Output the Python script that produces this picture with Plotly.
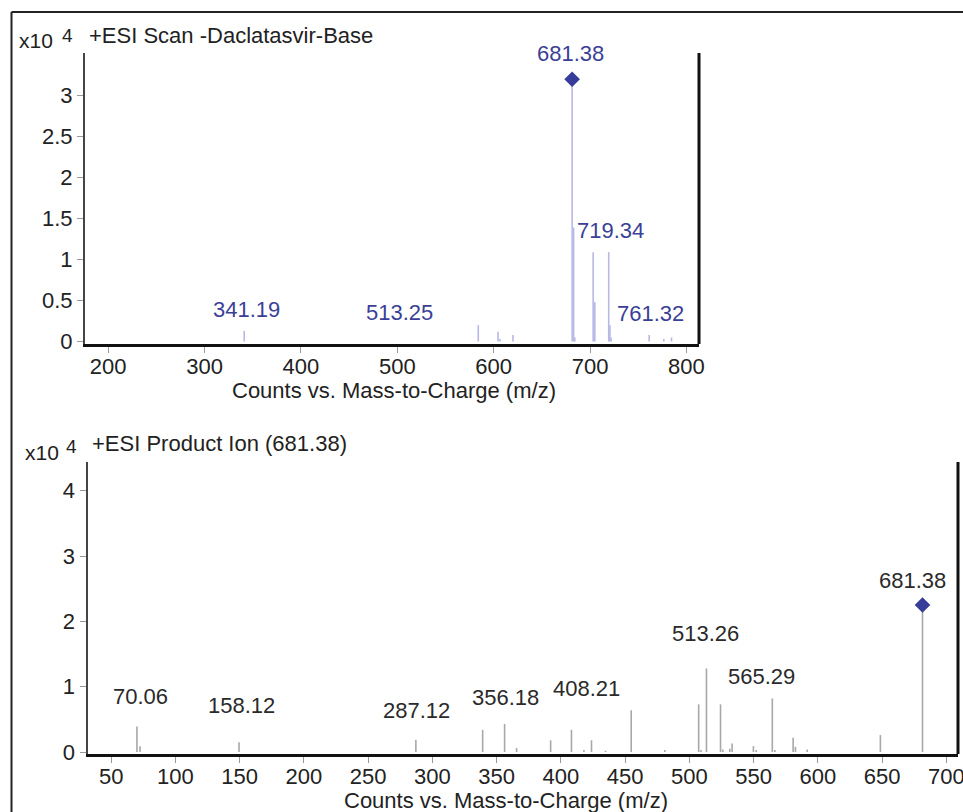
import plotly.graph_objects as go

# ---------------- data ----------------
# Top spectrum: +ESI Scan -Daclatasvir-Base  (intensity in x10^4 counts)
top_mz = [341.19, 584.0, 604.5, 606.5, 620.0, 681.38, 682.9, 684.2, 703.2,
          704.9, 719.34, 720.6, 721.8, 761.32, 776.5, 784.5]
top_int = [0.13, 0.20, 0.12, 0.03, 0.08, 3.20, 1.39, 0.05, 1.09,
           0.48, 1.09, 0.20, 0.05, 0.08, 0.03, 0.05]
top_labels = ["681.38", "719.34", "761.32", "341.19", "513.25"]
top_precursor_mz = [681.38]
top_precursor_int = [3.20]
top_xticks = [200, 300, 400, 500, 600, 700, 800]
top_yticks = [0, 0.5, 1, 1.5, 2, 2.5, 3]
top_yticktext = ["0", "0.5", "1", "1.5", "2", "2.5", "3"]

# Bottom spectrum: +ESI Product Ion (681.38)
bot_mz = [70.06, 72.5, 149.5, 287.12, 339.1, 356.18, 365.5, 392.0, 408.21, 417.9,
          423.8, 434.7, 454.7, 480.9, 507.2, 509.0, 513.26, 524.2, 526.0, 531.4,
          533.2, 549.8, 552.0, 564.5, 566.5, 580.7, 582.5, 591.6, 648.6, 681.38]
bot_int = [0.39, 0.09, 0.15, 0.19, 0.34, 0.43, 0.06, 0.18, 0.34, 0.03,
           0.18, 0.02, 0.64, 0.03, 0.73, 0.03, 1.28, 0.73, 0.04, 0.05,
           0.13, 0.09, 0.03, 0.82, 0.03, 0.22, 0.08, 0.04, 0.26, 2.25]
bot_labels = ["70.06", "158.12", "287.12", "356.18", "408.21", "513.26", "565.29", "681.38"]
bot_precursor_mz = [681.38]
bot_precursor_int = [2.25]
bot_xticks = [50, 100, 150, 200, 250, 300, 350, 400, 450, 500, 550, 600, 650, 700]
bot_yticks = [0, 1, 2, 3, 4]

# ---------------- layout helpers ----------------
W, H = 963, 812
FONT = "Liberation Sans, Arial, Helvetica, sans-serif"
FS = 22

def dom_x(a, b):
    return [a / W, b / W]

def dom_y(top, bottom):
    return [1 - bottom / H, 1 - top / H]

def stems(mz, inten):
    xs, ys = [], []
    for m, v in zip(mz, inten):
        xs += [m, m, None]
        ys += [0, v, None]
    return xs, ys

fig = go.Figure()

tx, ty = stems(top_mz, top_int)
fig.add_trace(go.Scatter(x=tx, y=ty, mode="lines", xaxis="x", yaxis="y",
                         line=dict(color="#b8b8e6", width=1.6), hoverinfo="skip",
                         showlegend=False))
fig.add_trace(go.Scatter(x=top_precursor_mz, y=top_precursor_int, mode="markers",
                         xaxis="x", yaxis="y", showlegend=False,
                         marker=dict(symbol="diamond", size=12, color="#363c99")))

bx, by = stems(bot_mz, bot_int)
fig.add_trace(go.Scatter(x=bx, y=by, mode="lines", xaxis="x2", yaxis="y2",
                         line=dict(color="#a8a8a8", width=1.6), hoverinfo="skip",
                         showlegend=False))
fig.add_trace(go.Scatter(x=bot_precursor_mz, y=bot_precursor_int, mode="markers",
                         xaxis="x2", yaxis="y2", showlegend=False,
                         marker=dict(symbol="diamond", size=12, color="#363c99")))

tickfont = dict(family=FONT, size=FS, color="#222222")
common_x = dict(showline=True, linecolor="#111111", linewidth=3, ticks="outside",
                ticklen=6, tickwidth=1, tickcolor="#999999", showgrid=False,
                zeroline=False, tickfont=tickfont, fixedrange=True, automargin=False,
                ticklabelstandoff=-5, ticklabeloverflow="allow")
common_y = dict(showline=True, linecolor="#444444", linewidth=2, ticks="outside",
                ticklen=6, tickwidth=1, tickcolor="#999999", showgrid=False,
                zeroline=False, tickfont=tickfont, fixedrange=True, automargin=False)

fig.update_layout(
    width=W, height=H, autosize=False,
    margin=dict(l=0, r=0, t=0, b=0, pad=0, autoexpand=False),
    paper_bgcolor="white", plot_bgcolor="white",
    font=dict(family=FONT, size=FS, color="#222222"),
    hovermode=False,
    xaxis=dict(domain=dom_x(85, 699), range=[176, 813], tickvals=top_xticks,
               anchor="y", **common_x),
    yaxis=dict(domain=dom_y(53, 344), range=[-0.03, 3.52], tickvals=top_yticks,
               ticktext=top_yticktext, anchor="x", **common_y),
    xaxis2=dict(domain=dom_x(87.5, 958), range=[31.6, 709], tickvals=bot_xticks,
                anchor="y2", **common_x),
    yaxis2=dict(domain=dom_y(462, 754), range=[-0.03, 4.44], tickvals=bot_yticks,
                anchor="x2", **common_y),
)

shapes = [
    # right frame lines of each plot
    dict(type="line", xref="x domain", yref="y domain", x0=1, x1=1, y0=0, y1=1,
         line=dict(color="#111111", width=3)),
    dict(type="line", xref="x2 domain", yref="y2 domain", x0=1, x1=1, y0=0, y1=1,
         line=dict(color="#111111", width=3)),
    # outer image frame (left and top)
    dict(type="line", xref="paper", yref="paper", x0=11.5 / W, x1=11.5 / W,
         y0=0, y1=1 - 12 / H, line=dict(color="#222222", width=2)),
    dict(type="line", xref="paper", yref="paper", x0=11.5 / W, x1=1,
         y0=1 - 12 / H, y1=1 - 12 / H, line=dict(color="#222222", width=2)),
]
fig.update_layout(shapes=shapes)

ann = []
# peak labels, top (blue)
top_label_pos = [(679.7, 3.51), (720.8, 1.35), (762.9, 0.34), (344.0, 0.39), (501.9, 0.36)]
for t, (x, y) in zip(top_labels, top_label_pos):
    ann.append(dict(x=x, y=y, xref="x", yref="y", text=t, showarrow=False,
                    font=dict(family=FONT, size=FS, color="#3b3f96"),
                    xanchor="center", yanchor="middle"))
# peak labels, bottom (black)
bot_label_pos = [(72.6, 0.85), (151.1, 0.71), (288.0, 0.63), (357.0, 0.83),
                 (420.0, 0.98), (512.8, 1.82), (556.1, 1.16), (673.5, 2.62)]
for t, (x, y) in zip(bot_labels, bot_label_pos):
    ann.append(dict(x=x, y=y, xref="x2", yref="y2", text=t, showarrow=False,
                    font=dict(family=FONT, size=FS, color="#2a2a2a"),
                    xanchor="center", yanchor="middle"))

def paper_text(text, px, py, anchor="center", size=FS):
    ann.append(dict(x=px / W, y=1 - py / H, xref="paper", yref="paper", text=text,
                    showarrow=False, xanchor=anchor, yanchor="middle",
                    font=dict(family=FONT, size=size, color="#222222")))

# titles
paper_text("+ESI Scan -Daclatasvir-Base", 87, 35, anchor="left")
paper_text("+ESI Product Ion (681.38)", 90, 443, anchor="left")
# scale factors
paper_text("x10", 36, 41, size=FS - 1)
paper_text("4", 67, 35, size=FS - 3)
paper_text("x10", 42, 452, size=FS - 1)
paper_text("4", 71.5, 446, size=FS - 3)
# axis titles
paper_text("Counts vs. Mass-to-Charge (m/z)", 393.5, 390)
paper_text("Counts vs. Mass-to-Charge (m/z)", 506, 800)

fig.update_layout(annotations=ann)

fig.write_html("out.html",
               config={"displayModeBar": False, "staticPlot": True},
               post_script="document.body.style.margin='0';"
                           "document.body.style.padding='0';"
                           "document.body.style.overflow='hidden';")
